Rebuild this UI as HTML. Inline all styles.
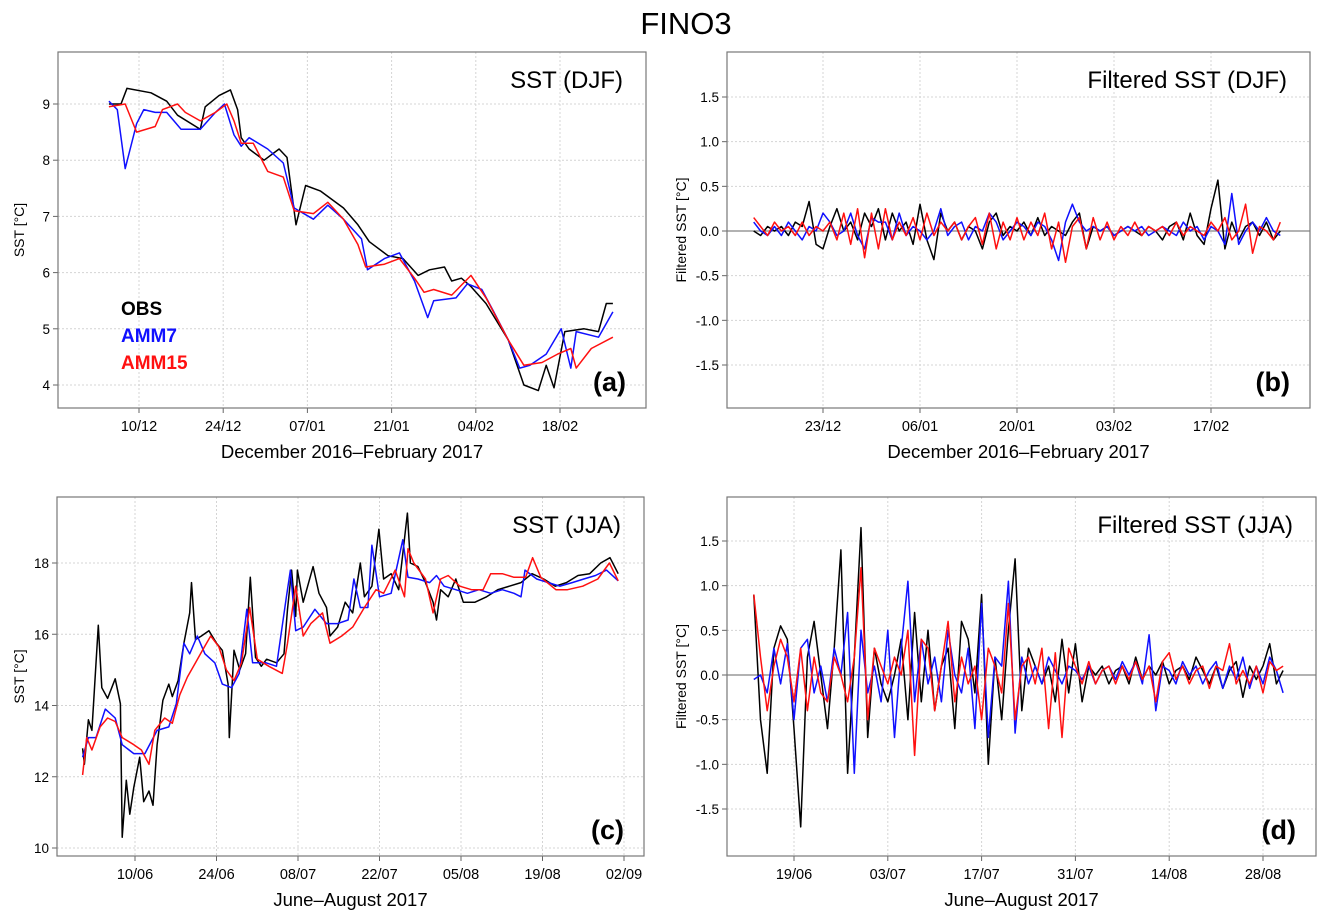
<!DOCTYPE html>
<html><head><meta charset="utf-8">
<style>
html,body{margin:0;padding:0;background:#fff;}
svg{display:block;font-family:"Liberation Sans",sans-serif;}
</style></head>
<body>
<svg id="fig" width="1322" height="919" viewBox="0 0 1322 919" xmlns="http://www.w3.org/2000/svg">
<text x="686" y="34" text-anchor="middle" font-size="31">FINO3</text>
</svg>
<script>
// ---------- Panel (a): SST DJF (day 0 = 1 Dec) ----------
const aObsDays=[4,6,7,11,13.6,15.4,19.2,20,22.3,24.2,25.4,26,27.3,29.8,32.3,33.6,35.1,36.7,39.2,43,45.4,47.3,50.4,52.9,55.4,57.3,59.8,61,62.6,64.2,66.7,70.4,73,75.4,76.7,78,79.8,83,85.4,86.7,87.8];
const aObs=[9.0,9.0,9.28,9.2,9.05,8.8,8.55,8.95,9.15,9.25,8.9,8.4,8.2,8.0,8.2,8.05,6.85,7.55,7.45,7.15,6.85,6.55,6.3,6.25,5.95,6.05,6.1,5.85,5.9,5.75,5.45,4.8,4.0,3.9,4.35,3.95,4.95,5.0,4.95,5.45,5.45];
const aAmm7Days=[4,5.4,6.7,8.6,9.8,11.7,13.6,16,19.2,21.7,23.2,24.8,26,27.3,30.4,33,34.8,38,40.4,43,46,47,49.8,52.3,54.8,57,58,61.7,63.6,66,68,70.4,72.3,74,76.7,79.2,80.8,81.7,85.4,87.8];
const aAmm7=[9.05,8.9,7.85,8.65,8.9,8.85,8.85,8.55,8.55,8.85,9.0,8.45,8.25,8.4,8.2,7.95,7.15,6.95,7.2,6.95,6.6,6.05,6.25,6.35,5.85,5.2,5.5,5.55,5.8,5.7,5.3,4.8,4.3,4.35,4.55,5.0,4.3,4.95,4.85,5.3];
const aAmm15Days=[4,6.7,8.6,11.7,12.9,15.4,16.7,19.2,21.7,23.6,24.8,26,28,30.4,33,34.8,38,40.4,43,45.4,46.7,49.8,52.3,54.8,56.4,58,61,64.2,66.7,70.4,73,76,78.6,80.8,81.7,84.2,87.8];
const aAmm15=[8.95,9.0,8.5,8.6,8.9,9.0,8.85,8.7,8.85,9.0,8.7,8.3,8.3,7.8,7.7,7.1,7.05,7.25,6.95,6.5,6.1,6.15,6.25,5.9,5.65,5.7,5.6,5.95,5.55,4.8,4.35,4.4,4.55,4.65,4.3,4.65,4.85];
const aYTicks=[4,5,6,7,8,9];
const aXTickDays=[9,23,37,51,65,79];
const aXTickLabels=["10/12","24/12","07/01","21/01","04/02","18/02"];

// ---------- Panel (b): filtered SST DJF ----------
const bStartDay=12;
const bObs=[0.0,-0.05,0.05,0.0,0.05,-0.05,0.1,0.05,0.33,-0.15,-0.2,0.05,0.25,0.0,0.1,-0.1,0.2,0.05,0.25,-0.1,0.2,0.0,0.1,-0.15,0.3,-0.1,-0.32,0.2,0.0,0.1,-0.1,0.05,0.0,-0.2,0.1,0.2,-0.05,0.05,0.0,0.1,-0.05,0.15,-0.05,0.05,0.0,-0.05,0.1,0.2,-0.2,0.05,0.0,0.05,-0.05,0.0,0.05,0.0,-0.05,0.05,0.0,-0.1,0.05,0.1,-0.1,0.2,-0.05,-0.15,0.25,0.57,-0.2,0.1,-0.1,0.05,0.1,-0.05,0.1,-0.1,0.0];
const bAmm7=[0.1,0.0,-0.05,0.05,-0.05,0.1,0.0,-0.1,0.05,0.0,0.2,0.1,-0.05,0.0,0.2,-0.05,-0.2,0.15,0.1,0.1,-0.1,0.2,-0.05,0.05,0.0,-0.1,0.0,0.25,-0.05,0.05,0.1,-0.1,0.05,0.0,0.2,0.1,-0.1,0.0,0.1,0.05,-0.05,0.1,0.05,-0.1,-0.33,0.1,0.3,0.1,0.0,0.05,0.0,0.05,-0.05,0.0,0.05,0.0,0.05,-0.05,0.0,0.05,0.0,-0.05,0.1,0.0,0.05,-0.1,0.05,0.0,-0.15,0.42,-0.15,0.0,0.1,0.0,0.15,0.0,-0.05];
const bAmm15=[0.15,0.05,-0.05,0.1,0.0,0.05,-0.05,0.1,-0.05,0.05,0.0,0.1,-0.1,0.2,-0.15,0.25,-0.3,0.2,-0.2,0.25,-0.1,0.1,-0.05,0.15,-0.1,0.2,-0.05,0.1,0.0,0.1,-0.1,0.05,0.15,-0.15,0.2,-0.2,0.1,-0.1,0.15,-0.1,0.1,-0.05,0.2,-0.2,0.1,-0.35,0.05,0.15,-0.2,0.15,-0.1,0.1,-0.1,0.05,-0.05,0.1,-0.05,0.05,0.0,0.05,-0.05,0.1,-0.05,0.05,0.0,-0.05,0.1,0.0,0.15,-0.1,0.0,0.3,-0.25,0.05,0.0,-0.1,0.1];
const fYTicks=[-1.5,-1.0,-0.5,0.0,0.5,1.0,1.5];
const fYTickLabels=["-1.5","-1.0","-0.5","0.0","0.5","1.0","1.5"];
const bXTickDays=[22,36,50,64,78];
const bXTickLabels=["23/12","06/01","20/01","03/02","17/02"];

// ---------- Panel (c): SST JJA (day 0 = 1 Jun) ----------
const cObsDays=[0,0.3,1,1.6,2,2.7,3.3,4.3,5.6,6.5,6.8,7.5,8.1,8.8,9.8,10.5,11.4,12.1,12.8,13.8,14.8,15.4,16.4,17.4,18.4,18.7,19.4,20.4,21.7,23,24,25,25.2,26,27,28,28.8,29.7,30.7,31.6,33.3,34.6,35.2,35.9,36.6,36.9,37.9,39.6,40.6,41.9,42.5,43.8,45.1,46.4,47.7,48.4,49.7,50.9,51.7,53,54.3,55.8,56.3,57.6,58.9,60.2,60.8,61.5,62.8,64.1,65.4,67.4,69.4,71.3,73.3,75.3,77.2,79.2,81.2,83.1,85.1,87.1,89,90.6,92];
const cObs=[12.8,12.35,13.6,13.3,14.4,16.25,14.5,14.2,14.75,14.05,10.3,11.9,10.95,11.7,12.55,11.3,11.6,11.2,12.9,14.15,14.6,14.25,14.7,15.75,16.6,17.45,15.85,15.95,16.1,15.75,15.55,14.6,13.1,15.55,15.0,15.45,17.6,15.35,15.1,15.3,15.2,15.45,16.7,17.8,16.5,17.8,16.9,17.9,17.15,16.75,15.95,16.2,16.9,16.6,18.0,17.05,17.35,18.95,17.55,17.7,17.25,19.4,18.0,17.9,17.45,16.9,16.4,17.25,17.05,17.55,16.9,16.9,17.05,17.25,17.35,17.45,17.7,17.55,17.35,17.45,17.65,17.7,18.0,18.15,17.7];
const cAmm7Days=[0,1,2.3,3.9,5.6,6.8,8.8,10.7,12.8,14.8,16.1,17.4,18.4,19.7,21,22.7,24,25.6,26.9,28.2,29.2,31.5,33.3,35,35.7,36.6,37.9,39.9,41.9,43.8,45.6,46.6,47.7,49,49.7,51,53,55,55.9,57.6,59.6,60.8,62.1,64.1,66.1,68.1,70.1,72.1,74.1,75.3,76,78,80,82,84.1,86.1,88.1,90,92];
const cAmm7=[12.55,13.1,13.1,13.9,13.65,12.9,12.65,12.65,13.3,13.4,14.05,15.75,15.45,15.95,15.45,15.2,14.6,14.5,14.9,16.7,15.2,15.2,15.1,17.05,17.8,16.1,16.2,16.7,16.3,16.3,16.4,17.55,16.75,16.75,18.5,17.05,17.15,18.65,17.6,17.55,17.45,17.65,17.35,17.25,17.15,17.25,17.15,17.25,17.15,17.05,17.8,17.55,17.45,17.35,17.45,17.55,17.65,17.8,17.5];
const cAmm15Days=[0,0.7,1.6,3,4.3,5.6,6.8,8.8,10.1,11.4,12.4,14.1,15.4,16.7,18,19.4,20.6,22,23.4,24.7,26,27.3,28.7,30,32,34.3,35.2,36.6,37.9,39.2,41.2,42.5,44.5,46.4,48.4,50.4,51.7,53.7,55.3,55.9,56.9,58.9,60.2,61.5,62.8,64.8,66.8,68.8,70.1,72.1,74.1,76.1,77.3,78.7,81.3,83.3,85.9,88.5,90.5,92];
const cAmm15=[12.05,13.1,12.75,13.4,13.65,13.55,13.1,12.9,12.75,12.35,13.3,13.65,13.5,14.3,14.8,15.2,15.55,15.95,15.65,15.0,14.7,15.2,16.75,15.3,15.1,14.9,15.75,17.35,15.95,16.3,16.6,15.75,15.95,16.2,16.75,17.25,17.15,17.8,17.05,18.4,18.0,17.55,16.6,17.55,17.65,17.35,17.25,17.25,17.7,17.7,17.6,17.6,18.15,17.6,17.25,17.25,17.35,17.55,18.0,17.5];
const cYTicks=[10,12,14,16,18];
const cXTickDays=[9,23,37,51,65,79,93];
const cXTickLabels=["10/06","24/06","08/07","22/07","05/08","19/08","02/09"];

// ---------- Panel (d): filtered SST JJA ----------
const dStartDay=12;
const dObs=[0.9,-0.5,-1.1,0.3,0.55,0.4,-0.6,-1.7,0.2,0.6,0.0,-0.6,0.3,1.4,-1.1,0.2,1.65,-0.7,0.3,-0.1,-0.3,0.0,0.4,-0.5,0.7,-0.3,0.5,-0.4,0.1,0.3,-0.6,0.6,0.4,-0.2,0.9,-1.0,0.2,-0.5,0.5,1.3,-0.4,0.3,0.1,-0.1,0.1,-0.3,0.4,-0.2,0.35,-0.3,0.1,0.0,0.1,-0.1,0.05,0.1,-0.1,0.2,-0.05,0.1,0.0,0.15,-0.1,0.05,0.1,-0.05,0.2,0.05,-0.1,0.1,-0.15,0.05,0.15,-0.25,0.1,-0.05,0.1,0.35,-0.1,0.05];
const dAmm7=[-0.05,0.0,-0.2,0.3,-0.1,0.35,-0.5,0.3,0.4,-0.2,0.1,-0.3,0.3,0.0,0.7,-1.1,0.5,-0.2,0.1,-0.3,0.5,-0.7,0.3,1.05,-0.3,0.4,-0.1,0.2,-0.3,0.5,0.0,-0.2,0.3,-0.6,0.8,-0.7,0.2,0.1,1.05,-0.65,0.2,-0.1,0.1,-0.1,0.2,0.05,-0.1,0.1,0.05,-0.05,0.1,-0.1,0.05,0.1,-0.05,0.15,0.0,0.15,-0.1,0.45,-0.4,0.1,0.05,-0.1,0.15,0.0,0.1,-0.1,0.05,0.15,-0.15,0.1,-0.05,0.2,-0.15,0.1,-0.1,0.2,0.05,-0.2];
const dAmm15=[0.9,0.2,-0.4,0.1,0.4,0.2,-0.3,0.3,-0.4,0.2,-0.2,-0.3,0.2,0.0,-0.3,0.2,1.2,-0.5,0.3,0.1,-0.1,0.2,0.0,0.5,-0.9,0.4,0.3,-0.4,0.1,0.6,-0.3,0.2,-0.1,0.1,-0.5,0.3,0.1,-0.2,0.8,-0.5,0.1,0.2,-0.1,0.3,-0.6,0.25,-0.7,0.3,0.1,-0.1,0.15,-0.1,0.05,0.1,-0.1,0.1,-0.05,0.15,-0.05,0.1,-0.3,0.15,0.25,-0.05,0.1,-0.1,0.05,0.1,-0.15,0.1,0.05,0.35,-0.1,0.05,-0.1,0.1,-0.2,0.15,0.05,0.1];
const dXTickDays=[18,32,46,60,74,88];
const dXTickLabels=["19/06","03/07","17/07","31/07","14/08","28/08"];

const NS="http://www.w3.org/2000/svg";
const svg=document.getElementById('fig');
function mk(tag,attrs,parent){const e=document.createElementNS(NS,tag);for(const k in attrs)e.setAttribute(k,attrs[k]);(parent||svg).appendChild(e);return e;}
function scale(d0,d1,r0,r1){return v=>r0+(v-d0)*(r1-r0)/(d1-d0);}

function panel(cfg){
  const g=mk('g',{});
  
  
  const {L,R,T,B}=cfg;
  mk('rect',{x:L,y:T,width:R-L,height:B-T,fill:'#fff'},g);
  cfg.xTicks.forEach((d,i)=>{
    const x=cfg.xs(d);
    const gl=mk('line',{x1:x,x2:x,y1:T,y2:B,stroke:'#d4d4d4','stroke-width':1,'stroke-dasharray':'2,2'},g);
    
    
    mk('line',{x1:x,x2:x,y1:B,y2:B+5,stroke:'#666','stroke-width':1},g);
    const t=mk('text',{x:x,y:B+23,'text-anchor':'middle','font-size':14.5,fill:'#000'},g);
    
    
    t.textContent=cfg.xLabels[i];
  });
  cfg.yTicks.forEach((v,i)=>{
    const y=cfg.ys(v);
    const gl=mk('line',{x1:L,x2:R,y1:y,y2:y,stroke:'#d4d4d4','stroke-width':1,'stroke-dasharray':'2,2'},g);
    
    
    mk('line',{x1:L-5,x2:L,y1:y,y2:y,stroke:'#666','stroke-width':1},g);
    const t=mk('text',{x:L-8,y:y+5,'text-anchor':'end','font-size':13.5,fill:'#000'},g);
    
    
    t.textContent=cfg.yLabels?cfg.yLabels[i]:String(v);
  });
  if(cfg.zero){
    const z=mk('line',{x1:L,x2:R,y1:cfg.ys(0),y2:cfg.ys(0),stroke:'#999','stroke-width':1.5},g);
    
    
  }
  cfg.series.forEach(s=>{
    const pts=s.vals.map((v,i)=>{const d=s.days?s.days[i]:s.start+i;return cfg.xs(d).toFixed(1)+','+cfg.ys(v).toFixed(1);}).join(' ');
    const p=mk('polyline',{points:pts,fill:'none',stroke:s.color,'stroke-width':1.5,'stroke-linejoin':'round'},g);
    
    
  });
  const fr=mk('rect',{x:L,y:T,width:R-L,height:B-T,fill:'none',stroke:'#777','stroke-width':1.2},g);
  
  
  const tt=mk('text',{x:R-23,y:T+36,'text-anchor':'end','font-size':24,fill:'#000'},g);
  
  
  tt.textContent=cfg.title;
  const lt=mk('text',{x:R-20,y:B-17,'text-anchor':'end','font-size':27,'font-weight':'bold',fill:'#000'},g);
  
  
  lt.textContent=cfg.letter;
  const xt=mk('text',{x:(L+R)/2,y:B+50,'text-anchor':'middle','font-size':18.5,fill:'#000'},g);
  
  
  xt.textContent=cfg.xTitle;
  const cy=(T+B)/2;
  const yt=mk('text',{x:cfg.yTitleX,y:cy,'text-anchor':'middle','font-size':14,fill:'#000',transform:`rotate(-90 ${cfg.yTitleX} ${cy})`},g);
  
  
  yt.textContent=cfg.yTitle;
  return g;
}

const colors={obs:'#000',a7:'#1010ff',a15:'#ff1010'};
const gA=panel({name:'panel-a-sst-djf',L:58,R:646,T:52,B:408,xs:scale(9,79,139,560),ys:scale(4,9,385,104),
  xTicks:aXTickDays,xLabels:aXTickLabels,yTicks:aYTicks,title:'SST (DJF)',letter:'(a)',xTitle:'December 2016\u2013February 2017',yTitle:'SST [°C]',yTitleX:24,
  series:[{name:'obs-line',days:aObsDays,vals:aObs,color:colors.obs},{name:'amm7-line',days:aAmm7Days,vals:aAmm7,color:colors.a7},{name:'amm15-line',days:aAmm15Days,vals:aAmm15,color:colors.a15}]});
[['OBS','#000',315],['AMM7','#1010ff',342],['AMM15','#ff1010',369]].forEach(([t,c,y])=>{
  const e=mk('text',{x:121,y:y,'font-size':19,'font-weight':'bold',fill:c},gA);
  
  
  e.textContent=t;
});
panel({name:'panel-b-filtered-djf',L:727,R:1310,T:52,B:408,xs:scale(22,78,823,1211),ys:scale(-1.5,1.5,365,97),zero:true,
  xTicks:bXTickDays,xLabels:bXTickLabels,yTicks:fYTicks,yLabels:fYTickLabels,title:'Filtered SST (DJF)',letter:'(b)',xTitle:'December 2016\u2013February 2017',yTitle:'Filtered SST [°C]',yTitleX:686,
  series:[{name:'obs-filtered-line',start:bStartDay,vals:bObs,color:colors.obs},{name:'amm7-filtered-line',start:bStartDay,vals:bAmm7,color:colors.a7},{name:'amm15-filtered-line',start:bStartDay,vals:bAmm15,color:colors.a15}]});
panel({name:'panel-c-sst-jja',L:57,R:644,T:497,B:856,xs:scale(9,93,135,624),ys:scale(10,18,848,563),
  xTicks:cXTickDays,xLabels:cXTickLabels,yTicks:cYTicks,title:'SST (JJA)',letter:'(c)',xTitle:'June\u2013August 2017',yTitle:'SST [°C]',yTitleX:24,
  series:[{name:'obs-line',days:cObsDays,vals:cObs,color:colors.obs},{name:'amm7-line',days:cAmm7Days,vals:cAmm7,color:colors.a7},{name:'amm15-line',days:cAmm15Days,vals:cAmm15,color:colors.a15}]});
panel({name:'panel-d-filtered-jja',L:727,R:1316,T:497,B:856,xs:scale(18,88,794,1263),ys:scale(-1.5,1.5,809,541),zero:true,
  xTicks:dXTickDays,xLabels:dXTickLabels,yTicks:fYTicks,yLabels:fYTickLabels,title:'Filtered SST (JJA)',letter:'(d)',xTitle:'June\u2013August 2017',yTitle:'Filtered SST [°C]',yTitleX:686,
  series:[{name:'obs-filtered-line',start:dStartDay,vals:dObs,color:colors.obs},{name:'amm7-filtered-line',start:dStartDay,vals:dAmm7,color:colors.a7},{name:'amm15-filtered-line',start:dStartDay,vals:dAmm15,color:colors.a15}]});
</script>
</body></html>
